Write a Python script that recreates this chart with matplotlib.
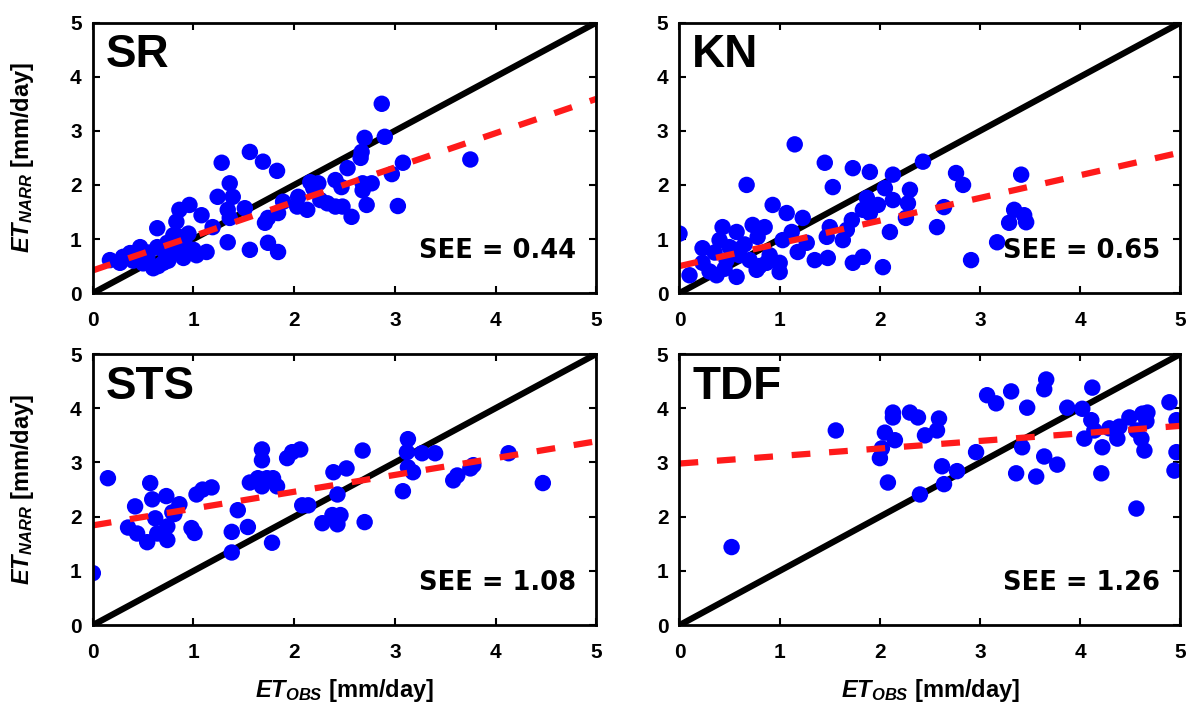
import numpy as np
import matplotlib
matplotlib.use("Agg")
import matplotlib.pyplot as plt

plt.rcParams['font.family'] = ['Liberation Sans', 'DejaVu Sans']
plt.rcParams['font.weight'] = 'bold'
plt.rcParams['mathtext.fontset'] = 'custom'
plt.rcParams['mathtext.it'] = 'Liberation Sans:italic:bold'
plt.rcParams['mathtext.rm'] = 'Liberation Sans:bold'

# --- data (ET_OBS, ET_NARR in mm/day) ---
sr_obs = [2.87, 2.70, 2.90, 3.75, 1.56, 1.28, 1.69, 1.83, 2.67, 2.66, 2.53, 3.08, 2.97, 3.03,
          2.72, 2.68, 2.77, 2.68, 2.41, 2.47, 2.16, 2.24, 2.19, 2.26, 2.33, 2.41, 2.48, 2.57,
          2.04, 2.03, 2.13, 1.89, 1.84, 1.74, 1.71, 1.51, 1.34, 1.36, 1.36, 1.39, 1.24, 1.19,
          1.34, 1.56, 1.74, 1.84, 1.08, 0.96, 0.86, 0.83, 0.64, 1.13, 1.03, 0.93, 0.86, 0.80,
          0.70, 0.60, 0.54, 0.47, 0.37, 0.27, 0.17, 0.30, 0.64, 0.74, 0.40, 0.50, 0.65, 0.75,
          0.90, 1.00, 0.80, 0.55, 0.70, 0.95, 0.85]
sr_narr = [3.50, 2.87, 2.89, 2.47, 2.61, 2.41, 2.43, 2.26, 2.61, 2.50, 2.31, 2.41, 2.20, 1.61,
           1.63, 2.03, 2.03, 1.90, 2.09, 1.96, 2.05, 2.03, 1.94, 1.72, 1.66, 1.60, 1.60, 1.41,
           1.78, 1.60, 1.54, 1.69, 1.48, 1.39, 1.30, 1.57, 1.54, 1.39, 2.03, 1.78, 1.78, 1.22,
           0.94, 0.80, 0.93, 0.76, 1.44, 1.63, 1.54, 1.32, 1.20, 0.76, 0.70, 0.85, 1.04, 1.07,
           0.56, 0.46, 0.67, 0.85, 0.74, 0.56, 0.61, 0.67, 0.85, 0.93, 0.60, 0.55, 0.50, 0.60,
           0.65, 0.80, 0.75, 0.75, 0.80, 1.10, 0.90]

kn_obs = [1.15, 1.45, 1.73, 1.90, 2.43, 2.13, 0.67, 1.53, 2.05, 2.30, 2.13, 2.28, 2.26, 2.76,
          2.83, 3.41, 2.64, 2.57, 3.34, 3.44, 3.29, 3.46, 3.17, 2.91, 2.03, 1.87, 1.83, 1.90,
          1.98, 1.72, 1.67, 1.63, 1.50, 1.47, 2.10, 1.73, 1.83, 1.48, 1.35, 0.93, 1.07, 1.23,
          1.12, 1.27, 1.18, 1.03, 1.00, 1.00, 0.87, 0.77, 0.57, 0.37, 0.10, 0.00, 0.43, 0.57,
          0.73, 0.85, 0.78, 0.23, 0.40, 0.57, 0.47, 0.70, 0.23, 0.30, 0.45, 0.60, 0.35, 0.50,
          0.65, 0.90, 0.80]
kn_narr = [2.75, 2.41, 2.31, 2.24, 2.43, 2.19, 2.00, 1.96, 1.94, 1.91, 1.72, 1.66, 1.39, 2.22,
           2.00, 2.19, 1.59, 1.22, 1.54, 1.44, 1.30, 1.31, 0.94, 0.61, 0.48, 1.76, 1.54, 1.48,
           1.63, 1.35, 1.17, 0.98, 1.22, 1.04, 1.13, 0.56, 0.67, 0.65, 0.61, 1.63, 1.48, 1.39,
           1.13, 0.93, 0.76, 0.98, 0.56, 0.39, 0.56, 0.43, 0.30, 0.33, 0.33, 1.10, 1.22, 1.13,
           1.26, 1.22, 1.04, 0.83, 0.98, 0.80, 0.61, 0.61, 0.56, 0.40, 0.45, 0.70, 0.75, 0.85,
           0.90, 0.70, 0.50]

sts_obs = [0.00, 0.15, 0.57, 1.68, 1.68, 1.93, 1.98, 2.06, 2.68, 3.13, 3.12, 3.27, 3.40, 4.13,
           3.13, 3.18, 3.78, 3.75, 3.62, 3.58, 4.47, 3.08, 2.39, 2.52, 2.43, 2.38, 2.46, 2.43,
           2.28, 2.70, 2.08, 2.14, 1.56, 1.64, 1.73, 1.79, 1.83, 1.68, 1.44, 1.54, 1.38, 1.78,
           1.38, 1.03, 1.09, 1.18, 0.98, 1.01, 0.42, 0.59, 0.73, 0.86, 0.81, 0.74, 0.74, 0.64,
           0.54, 0.44, 0.35, 0.62, 0.79]
sts_narr = [0.96, 2.71, 2.62, 3.24, 3.04, 3.08, 3.19, 3.24, 3.22, 3.43, 3.19, 3.17, 3.17, 3.17,
            2.91, 2.82, 2.95, 2.89, 2.76, 2.67, 2.62, 2.47, 2.82, 2.89, 2.41, 2.03, 2.03, 1.86,
            1.88, 1.90, 2.21, 2.21, 2.63, 2.71, 2.71, 2.71, 2.56, 2.56, 2.12, 1.81, 1.72, 1.52,
            1.34, 2.41, 2.50, 2.54, 1.79, 1.70, 2.19, 2.32, 2.38, 2.23, 2.05, 1.82, 1.57, 1.69,
            1.53, 1.69, 1.80, 1.97, 2.08]

tdf_obs = [0.52, 1.56, 2.13, 2.13, 2.30, 2.38, 2.59, 2.57, 2.05, 2.15, 2.02, 2.00, 2.45, 2.08,
           2.40, 2.62, 2.64, 2.77, 2.96, 3.07, 3.16, 3.31, 3.47, 3.66, 3.64, 3.87, 4.02, 4.12,
           3.42, 3.36, 3.56, 3.64, 3.77, 4.11, 4.14, 4.04, 4.22, 4.21, 4.29, 4.39, 4.37, 4.49,
           4.56, 4.61, 4.64, 4.62, 4.67, 4.66, 4.89, 4.96, 4.96, 4.94, 4.56]
tdf_narr = [1.44, 3.59, 3.92, 3.83, 3.92, 3.83, 3.81, 3.59, 3.55, 3.41, 3.26, 3.08, 3.50, 2.63,
            2.41, 2.93, 2.60, 2.84, 3.19, 4.24, 4.09, 4.31, 4.01, 4.53, 4.35, 4.01, 3.99, 4.38,
            3.28, 2.80, 2.74, 3.11, 2.96, 3.78, 3.59, 3.44, 3.28, 2.80, 3.63, 3.66, 3.44, 3.83,
            3.59, 3.44, 3.22, 3.90, 3.92, 3.76, 4.11, 3.78, 3.19, 2.85, 2.15]

site_names = ['SR', 'KN', 'STS', 'TDF']
see_values = ['0.44', '0.65', '1.08', '1.26']
fit_intercepts = [0.42, 0.50, 1.84, 2.98]
fit_slopes = [0.634, 0.42, 0.31, 0.139]

obs_sets = [sr_obs, kn_obs, sts_obs, tdf_obs]
narr_sets = [sr_narr, kn_narr, sts_narr, tdf_narr]

# axes boxes in figure fraction [left, bottom, width, height]
positions = [[0.078, 0.586, 0.423, 0.382],
             [0.571, 0.586, 0.421, 0.382],
             [0.078, 0.117, 0.423, 0.383],
             [0.571, 0.117, 0.421, 0.383]]

fig = plt.figure(figsize=(11.9, 7.08), dpi=100)

ylab = r'$ET_{NARR}$ [mm/day]'
xlab = r'$ET_{OBS}$ [mm/day]'

for i in range(4):
    ax = fig.add_axes(positions[i])
    line = np.array([0, 5])

    # 1:1 line
    ax.plot(line, line, color='black', lw=4.5, zorder=2)
    # data points
    ax.scatter(obs_sets[i], narr_sets[i], s=140, color='#0000ff', edgecolors='none', zorder=3)
    # regression line
    ax.plot(line, fit_intercepts[i] + fit_slopes[i] * line, color='#ff1a1a',
            lw=4.5, ls=(0, (3.0, 3.0)), zorder=4)

    ax.set_xlim(0, 5)
    ax.set_ylim(0, 5)
    ax.set_xticks(range(6))
    ax.set_yticks(range(6))
    ax.tick_params(direction='in', top=True, right=True, length=5, width=1.5,
                   labelsize=15)
    ax.tick_params(axis='x', pad=13)
    ax.tick_params(axis='y', pad=8)
    for lab in ax.get_xticklabels() + ax.get_yticklabels():
        lab.set_fontweight('bold')
    for sp in ax.spines.values():
        sp.set_linewidth(2)
        sp.set_zorder(5)

    ax.text(0.025, 0.88, site_names[i], transform=ax.transAxes, fontsize=33,
            fontweight='bold', va='center', ha='left')
    ax.text(0.96, 0.155, 'SEE = ' + see_values[i], transform=ax.transAxes,
            fontsize=18.5, fontweight='bold', family='DejaVu Sans', va='center', ha='right')

    if i % 2 == 0:
        ax.set_ylabel(ylab, fontsize=17, fontweight='bold')
        ax.yaxis.set_label_coords(-0.112, 0.5)
    if i >= 2:
        ax.set_xlabel(xlab, fontsize=17, fontweight='bold')
        ax.xaxis.set_label_coords(0.5, -0.19)

fig.savefig('out.png', dpi=100)
